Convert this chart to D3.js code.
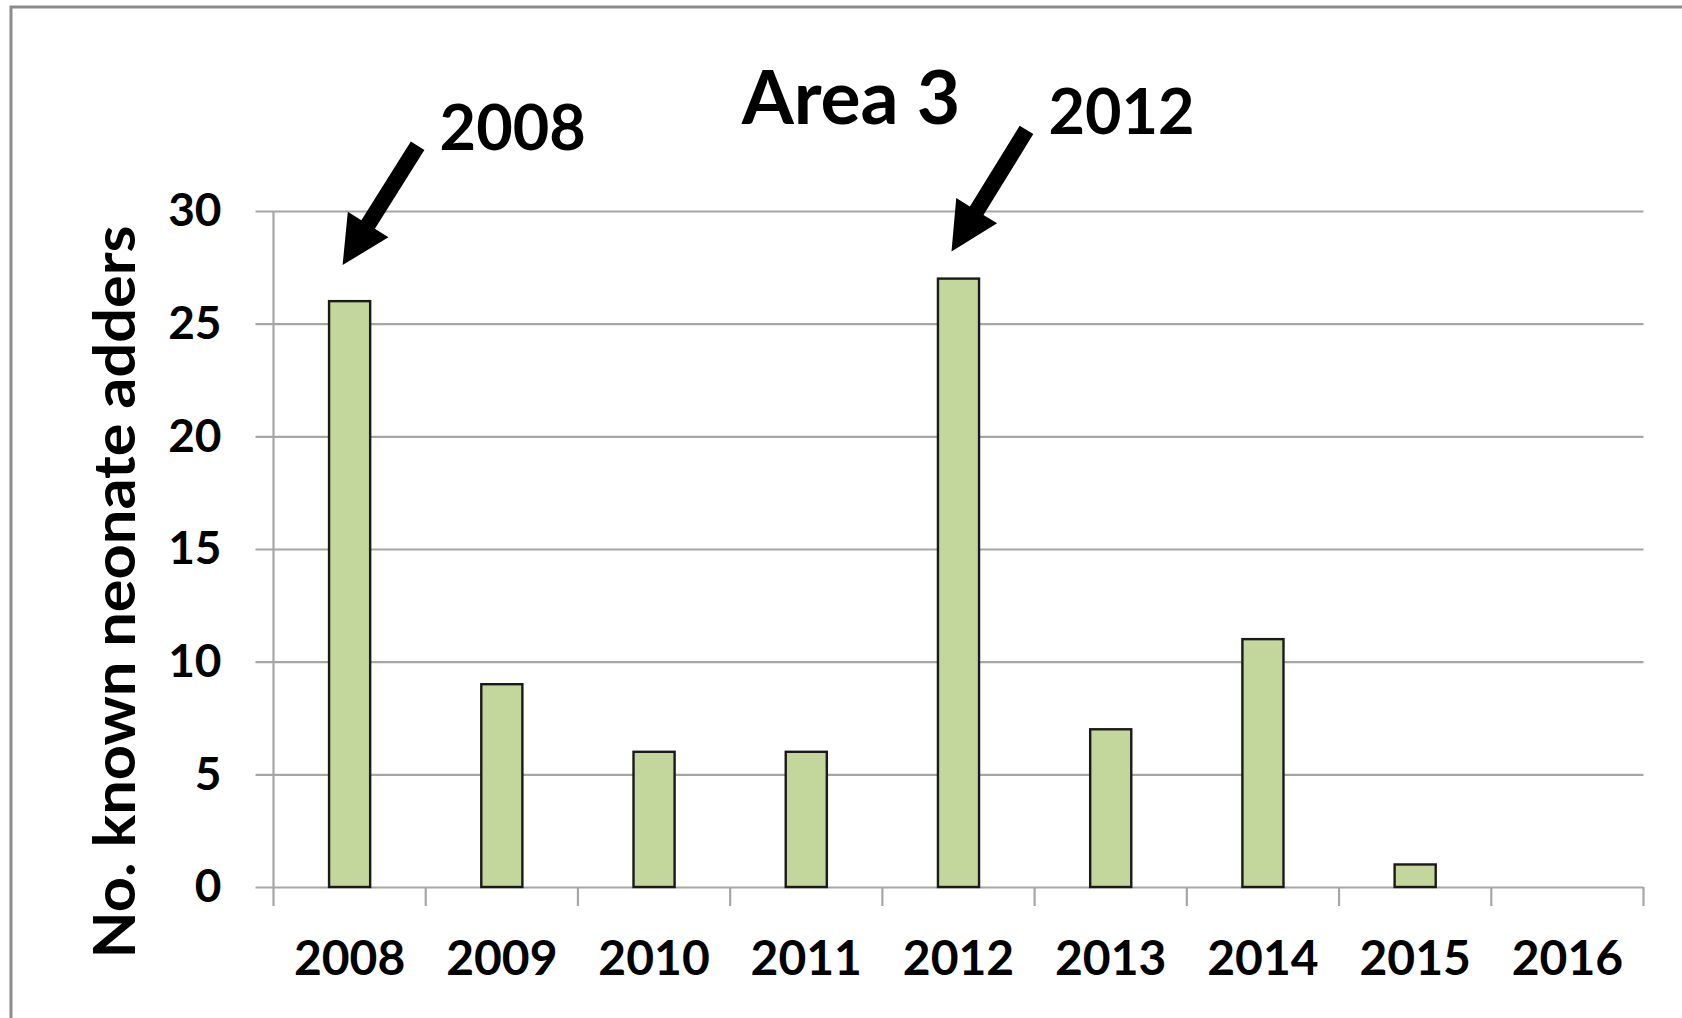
<!DOCTYPE html>
<html>
<head>
<meta charset="utf-8">
<script src="https://cdn.jsdelivr.net/npm/d3@7"></script>
<style>
  html, body { margin: 0; padding: 0; background: #fff; }
  svg { display: block; }
  text { font-family: Lato, "Open Sans", sans-serif; font-weight: 700; fill: #000; }
</style>
</head>
<body>
<svg id="chart" width="1682" height="1018"></svg>
<script>
// Neonate adder counts per survey year
const years = ["2008", "2009", "2010", "2011", "2012", "2013", "2014", "2015", "2016"];
const neonates = [26, 9, 6, 6, 27, 7, 11, 1, 0];
const yTicks = [0, 5, 10, 15, 20, 25, 30];
const chartTitle = "Area 3";
const yAxisTitle = "No. known neonate adders";

// Highlighted years with arrow call-outs (tip / tail heights in data units)
const calloutYears = ["2008", "2012"];
const calloutTipValue = [27.6, 28.2];
const calloutTailValue = [32.9, 33.6];

const svg = d3.select("#chart");
const W = 1682, H = 1018;

// Outer chart frame
svg.append("rect")
  .attr("x", 11).attr("y", 7)
  .attr("width", W).attr("height", H + 10)
  .attr("fill", "none")
  .attr("stroke", "#8c8c8c")
  .attr("stroke-width", 3);

const plot = { left: 273.5, right: 1643.5, top: 211, bottom: 887 };

const x = d3.scaleBand()
  .domain(years)
  .range([plot.left, plot.right])
  .paddingInner(0.73)
  .paddingOuter(0.365);

const y = d3.scaleLinear()
  .domain([0, 30])
  .range([plot.bottom, plot.top]);

const gridColor = "#a6a6a6";
const tickOut = 18;

// Horizontal gridlines + value labels
const yAxis = svg.append("g")
  .attr("transform", `translate(${plot.left - tickOut},0)`)
  .call(d3.axisLeft(y)
    .tickValues(yTicks)
    .tickSizeInner(-(plot.right - plot.left + tickOut))
    .tickSizeOuter(0)
    .tickPadding(34)
    .tickFormat(d3.format("d")));
yAxis.select(".domain").remove();
yAxis.selectAll(".tick line")
  .attr("stroke", gridColor)
  .attr("stroke-width", 2.2);
yAxis.selectAll(".tick text")
  .attr("font-size", 46)
  .attr("font-family", "Lato, 'Open Sans', sans-serif")
  .attr("font-weight", 700)
  .attr("fill", "#000");

// Vertical value axis line
svg.append("line")
  .attr("x1", plot.left).attr("x2", plot.left)
  .attr("y1", y(30)).attr("y2", y(0))
  .attr("stroke", gridColor)
  .attr("stroke-width", 2.2);

// Category tick marks sit between the bars
const step = x.step();
const x0 = x.range()[0];
svg.append("g").selectAll("line")
  .data(d3.range(years.length + 1))
  .join("line")
  .attr("x1", i => x0 + i * step)
  .attr("x2", i => x0 + i * step)
  .attr("y1", y(0))
  .attr("y2", y(0) + 19)
  .attr("stroke", gridColor)
  .attr("stroke-width", 2.2);

// Year labels
const xAxis = svg.append("g")
  .attr("transform", `translate(0,${y(0)})`)
  .call(d3.axisBottom(x).tickSize(0).tickPadding(54));
xAxis.select(".domain").remove();
xAxis.selectAll(".tick text")
  .attr("font-size", 48)
  .attr("font-family", "Lato, 'Open Sans', sans-serif")
  .attr("font-weight", 700)
  .attr("fill", "#000");

// Bars
const rows = years.map((yr, i) => ({ year: yr, value: neonates[i] }));
svg.append("g").selectAll("rect")
  .data(rows.filter(d => d.value > 0))
  .join("rect")
  .attr("x", d => x(d.year))
  .attr("y", d => y(d.value))
  .attr("width", x.bandwidth())
  .attr("height", d => y(0) - y(d.value))
  .attr("fill", "#c3d69b")
  .attr("stroke", "#1a1a1a")
  .attr("stroke-width", 2.4);

// Title
svg.append("text")
  .attr("x", 851).attr("y", 124)
  .attr("text-anchor", "middle")
  .attr("font-size", 75)
  .text(chartTitle);

// Value axis title
svg.append("text")
  .attr("transform", `translate(135,592) rotate(-90)`)
  .attr("text-anchor", "middle")
  .attr("font-size", 57)
  .attr("textLength", 733)
  .attr("lengthAdjust", "spacingAndGlyphs")
  .text(yAxisTitle);

// Arrow call-outs
function arrowPath(tail, tip) {
  const dx = tip[0] - tail[0], dy = tip[1] - tail[1];
  const len = Math.hypot(dx, dy);
  const ux = dx / len, uy = dy / len;
  const nx = -uy, ny = ux;
  const shaft = 8, head = 24, headLen = 48;
  const bx = tip[0] - ux * headLen, by = tip[1] - uy * headLen;
  const pts = [
    [tail[0] + nx * shaft, tail[1] + ny * shaft],
    [bx + nx * shaft, by + ny * shaft],
    [bx + nx * head, by + ny * head],
    tip,
    [bx - nx * head, by - ny * head],
    [bx - nx * shaft, by - ny * shaft],
    [tail[0] - nx * shaft, tail[1] - ny * shaft]
  ];
  return "M" + pts.map(p => p.join(",")).join("L") + "Z";
}

const callouts = calloutYears.map((yr, i) => {
  const cx = x(yr) + x.bandwidth() / 2;
  return {
    label: yr,
    tip: [cx - 7, y(calloutTipValue[i])],
    tail: [cx + 68, y(calloutTailValue[i])]
  };
});

const cg = svg.append("g");
cg.selectAll("path")
  .data(callouts)
  .join("path")
  .attr("d", d => arrowPath(d.tail, d.tip))
  .attr("fill", "#000");
cg.selectAll("text")
  .data(callouts)
  .join("text")
  .attr("x", d => d.tail[0] + 22)
  .attr("y", d => d.tail[1] + 4)
  .attr("font-size", 63)
  .text(d => d.label);
</script>
</body>
</html>
